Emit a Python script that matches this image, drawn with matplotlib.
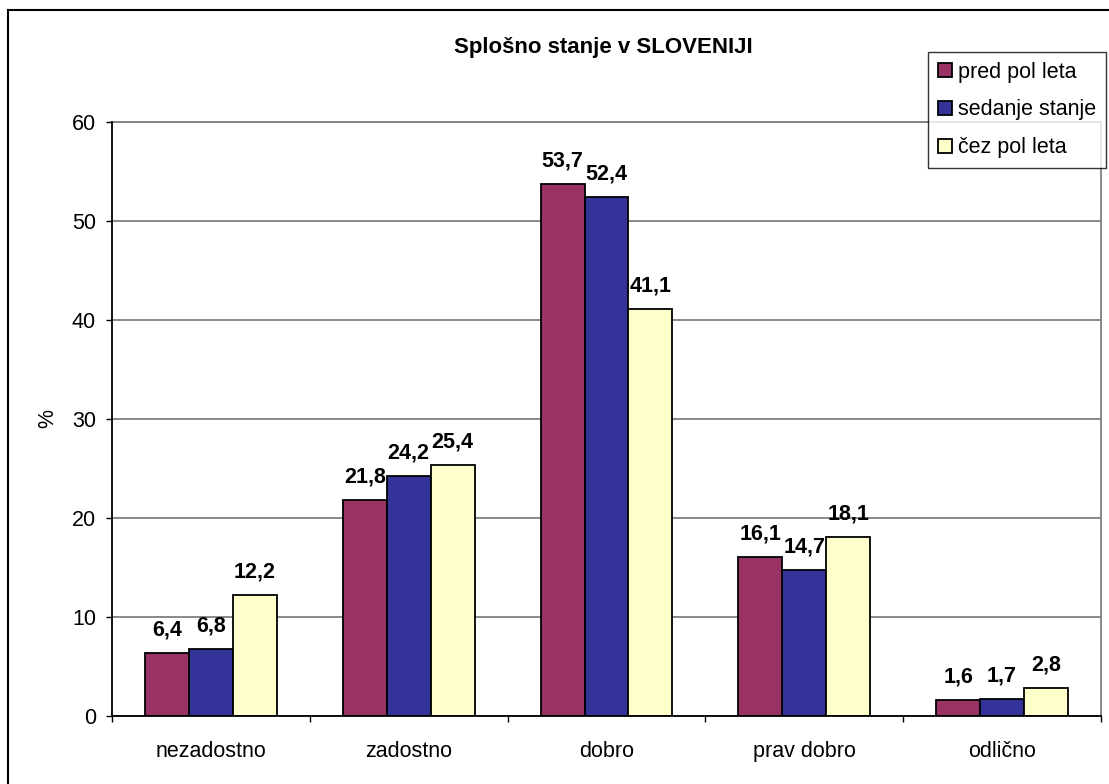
import matplotlib
matplotlib.use("Agg")
import matplotlib.pyplot as plt
import numpy as np
from matplotlib.lines import Line2D

categories = ["nezadostno", "zadostno", "dobro", "prav dobro", "odlično"]
series_names = ["pred pol leta", "sedanje stanje", "čez pol leta"]
pred_pol_leta = [6.4, 21.8, 53.7, 16.1, 1.6]
sedanje_stanje = [6.8, 24.2, 52.4, 14.7, 1.7]
cez_pol_leta = [12.2, 25.4, 41.1, 18.1, 2.8]
colors = ["#993366", "#333399", "#FFFFCC"]
yticks = [0, 10, 20, 30, 40, 50, 60]

plt.rcParams['font.family'] = ['Liberation Sans', 'DejaVu Sans']
FS = 15.5

W, H = 1109, 784
fig = plt.figure(figsize=(W / 100, H / 100), dpi=100)
ax = fig.add_axes([112 / W, 1 - 716 / H, (1101 - 112) / W, (716 - 122) / H])

x = np.arange(len(categories))
bw = 0.222
all_series = [pred_pol_leta, sedanje_stanje, cez_pol_leta]
for i, (vals, c, name) in enumerate(zip(all_series, colors, series_names)):
    pos = x + (i - 1) * bw
    ax.bar(pos, vals, width=bw, color=c, edgecolor="black", linewidth=1.3,
           label=name, zorder=3)
    for xp, v in zip(pos, vals):
        ax.annotate(f"{v:.1f}".replace(".", ","), (xp, v), xytext=(0, 9),
                    textcoords="offset points", ha="center", va="bottom",
                    fontsize=FS, fontweight="bold", zorder=4)

ax.set_xlim(-0.5, len(categories) - 0.5)
ax.set_ylim(0, 60)
ax.set_yticks(yticks)
ax.set_yticklabels([str(t) for t in yticks], fontsize=FS)
ax.yaxis.grid(True, color="#808080", linewidth=1.3, zorder=0)
ax.set_axisbelow(True)
ax.tick_params(axis="y", length=4.5, width=1, pad=7, direction="out")

ax.set_xticks(x)
ax.set_xticklabels(categories, fontsize=FS)
ax.set_xticks(np.arange(-0.5, len(categories)), minor=True)
ax.tick_params(axis="x", which="major", length=0, pad=18)
ax.tick_params(axis="x", which="minor", length=4.5, width=1, direction="out")

for s in ["left", "bottom"]:
    ax.spines[s].set_color("black")
    ax.spines[s].set_linewidth(1.3)
    ax.spines[s].set_zorder(5)
for s in ["top", "right"]:
    ax.spines[s].set_color("#808080")
    ax.spines[s].set_linewidth(1.3)

ax.set_ylabel("%", fontsize=FS, labelpad=10)

fig.text((455 + 752) / 2 / W, 1 - 47 / H, "Splošno stanje v SLOVENIJI",
         ha="center", va="center", fontsize=16, fontweight="bold")

leg = fig.legend(loc="upper right", bbox_to_anchor=(1106 / W, 1 - 52 / H),
                 borderaxespad=0, fontsize=FS, frameon=True, fancybox=False,
                 handlelength=0.65, handleheight=0.65, handletextpad=0.3,
                 labelspacing=0.78, borderpad=0.45)
leg.get_frame().set_edgecolor("black")
leg.get_frame().set_linewidth(1.0)
leg.set_zorder(10)

# outer chart border (left and top visible)
fig.add_artist(Line2D([8 / W, 8 / W], [0, 1 - 10 / H], transform=fig.transFigure,
                      color="black", linewidth=1.5))
fig.add_artist(Line2D([8 / W, 1], [1 - 10 / H, 1 - 10 / H], transform=fig.transFigure,
                      color="black", linewidth=1.5))

fig.savefig("out.png", dpi=100)
